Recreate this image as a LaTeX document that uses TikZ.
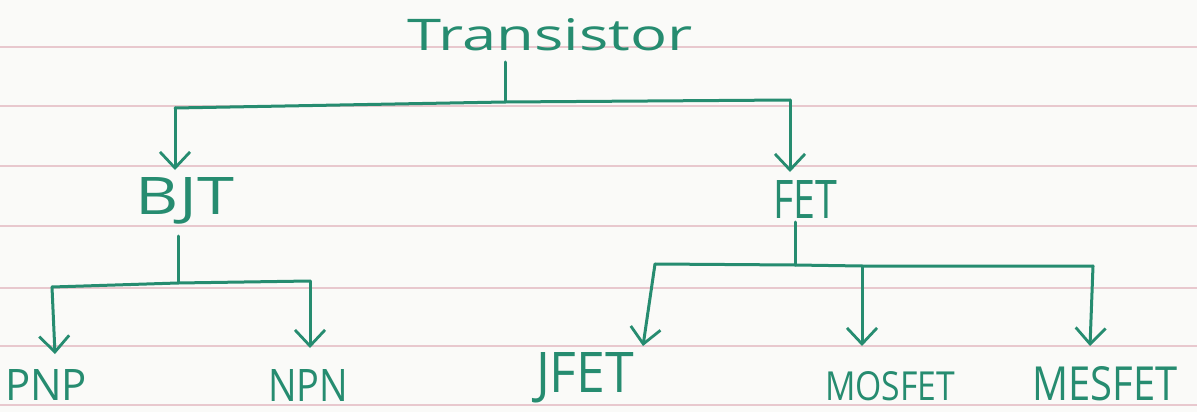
\documentclass[tikz,border=0pt]{standalone}
\usepackage{fontspec}
\setmainfont{Open Sans}
\usetikzlibrary{arrows.meta}
\definecolor{ink}{RGB}{38,140,112}
\definecolor{rule}{RGB}{232,200,206}
\definecolor{paper}{RGB}{250,250,248}
\newcommand\hwtext[3]{\resizebox{#1pt}{#2pt}{#3}}
\tikzset{
  lbl/.style={text=ink, inner sep=0pt, anchor=center, font=\fontsize{40}{40}\selectfont},
  wire/.style={draw=ink, line width=3pt, line cap=round, line join=round},
  arr/.style={wire, -{Straight Barb[length=16pt,width=30pt,line width=2.8pt]}}
}
\begin{document}
\begin{tikzpicture}[x=1pt,y=-1pt]
\fill[paper] (0,0) rectangle (1197,412);
\useasboundingbox (0,0) rectangle (1197,412);
\foreach \yy in {47,106,166,226,288,346,405}
  \draw[rule, line width=1.2pt] (0,\yy) -- (1197,\yy);
% nodes
\node[lbl] (tr) at (550,35) {\hwtext{285}{32}{Transistor}};
\node[lbl] (bjt) at (185,201) {\hwtext{98}{37}{BJT}};
\node[lbl] (fet) at (805,199) {\hwtext{64}{38}{FET}};
\node[lbl] (pnp) at (46,385) {\hwtext{82}{31}{PNP}};
\node[lbl] (npn) at (308,385) {\hwtext{80}{32}{NPN}};
\node[lbl] (jfet) at (585,378) {\hwtext{98}{40}{JFET}};
\node[lbl] (mos) at (890,386) {\hwtext{130}{29}{MOSFET}};
\node[lbl] (mes) at (1105,384) {\hwtext{145}{34}{MESFET}};
% junction coordinates
\coordinate (j0) at (505,102);
\coordinate (j0l) at (175,108);
\coordinate (j0r) at (790,100);
\coordinate (j1) at (178,283);
\coordinate (j1l) at (52,287);
\coordinate (j1r) at (310,281);
\coordinate (j2) at (795,265);
\coordinate (j2a) at (655,264);
\coordinate (j2b) at (862,266);
\coordinate (j2c) at (1093,266);
% connectors
\draw[wire] (505,62) -- (j0);
\draw[wire] (j0l) -- (j0) -- (j0r);
\draw[arr] (j0l) -- (175,170);
\draw[arr] (j0r) -- (790,172);
\draw[wire] (178,236) -- (j1);
\draw[wire] (j1l) -- (j1) -- (j1r);
\draw[arr] (j1l) -- (55,354);
\draw[arr] (j1r) -- (310,348);
\draw[wire] (795,222) -- (j2);
\draw[wire] (j2a) -- (j2) -- (j2b) -- (j2c);
\draw[arr] (j2a) -- (643,346);
\draw[arr] (j2b) -- (862,346);
\draw[arr] (j2c) -- (1090,346);
\end{tikzpicture}
\end{document}
